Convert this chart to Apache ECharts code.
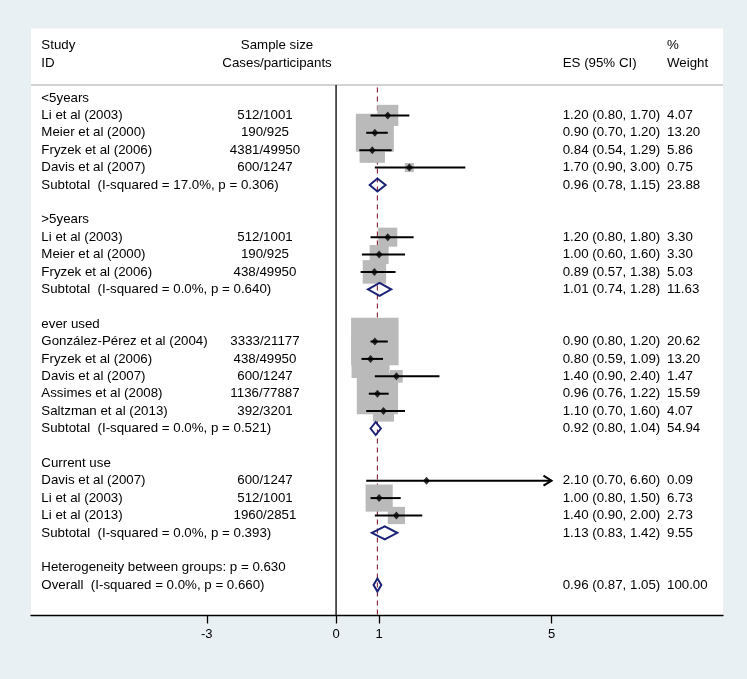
<!DOCTYPE html>
<html>
<head>
<meta charset="utf-8">
<script src="https://cdn.jsdelivr.net/npm/echarts@6/dist/echarts.min.js"></script>
<style>
  html, body { margin: 0; padding: 0; background: #e9f0f3; }
  #chart { width: 747px; height: 679px; }
</style>
</head>
<body>
<div id="chart"></div>
<script>
// rows of the forest plot, top to bottom
const studyLabels = [
  '<5years', 'Li et al (2003)', 'Meier et al (2000)', 'Fryzek et al (2006)', 'Davis et al (2007)',
  'Subtotal  (I-squared = 17.0%, p = 0.306)', '',
  '>5years', 'Li et al (2003)', 'Meier et al (2000)', 'Fryzek et al (2006)',
  'Subtotal  (I-squared = 0.0%, p = 0.640)', '',
  'ever used', 'González-Pérez et al (2004)', 'Fryzek et al (2006)', 'Davis et al (2007)',
  'Assimes et al (2008)', 'Saltzman et al (2013)', 'Subtotal  (I-squared = 0.0%, p = 0.521)', '',
  'Current use', 'Davis et al (2007)', 'Li et al (2003)', 'Li et al (2013)',
  'Subtotal  (I-squared = 0.0%, p = 0.393)', '',
  'Heterogeneity between groups: p = 0.630', 'Overall  (I-squared = 0.0%, p = 0.660)'
]
const rowTypes = [
  'group', 'study', 'study', 'study', 'study', 'pooled', '',
  'group', 'study', 'study', 'study', 'pooled', '',
  'group', 'study', 'study', 'study', 'study', 'study', 'pooled', '',
  'group', 'study', 'study', 'study', 'pooled', '',
  'note', 'pooled'
]
const sampleSizes = [
  '', '512/1001', '190/925', '4381/49950', '600/1247', '', '',
  '', '512/1001', '190/925', '438/49950', '', '',
  '', '3333/21177', '438/49950', '600/1247', '1136/77887', '392/3201', '', '',
  '', '600/1247', '512/1001', '1960/2851', '', '',
  '', ''
]
const es = [
  null, 1.20, 0.90, 0.84, 1.70, 0.96, null,
  null, 1.20, 1.00, 0.89, 1.01, null,
  null, 0.90, 0.80, 1.40, 0.96, 1.10, 0.92, null,
  null, 2.10, 1.00, 1.40, 1.13, null,
  null, 0.96
]
const ciLow = [
  null, 0.80, 0.70, 0.54, 0.90, 0.78, null,
  null, 0.80, 0.60, 0.57, 0.74, null,
  null, 0.80, 0.59, 0.90, 0.76, 0.70, 0.80, null,
  null, 0.70, 0.80, 0.90, 0.83, null,
  null, 0.87
]
const ciHigh = [
  null, 1.70, 1.20, 1.29, 3.00, 1.15, null,
  null, 1.80, 1.60, 1.38, 1.28, null,
  null, 1.20, 1.09, 2.40, 1.22, 1.60, 1.04, null,
  null, 6.60, 1.50, 2.00, 1.42, null,
  null, 1.05
]
const weights = [
  null, 4.07, 13.20, 5.86, 0.75, 23.88, null,
  null, 3.30, 3.30, 5.03, 11.63, null,
  null, 20.62, 13.20, 1.47, 15.59, 4.07, 54.94, null,
  null, 0.09, 6.73, 2.73, 9.55, null,
  null, 100.00
]
const xTicks = [-3, 0, 1, 5]
const xClip = 5

const font = '13.3px "Liberation Sans", Arial, sans-serif'
const xMin = -7.08
const xMax = 8.98
const yTop = -4
const yBottom = 29.75
const colStudy = -6.84
const colSample = -1.65
const colHeadSample = -1.37
const colES = 5.26
const colWeight = 7.68

const studyRows = []
const pooledRows = []
rowTypes.forEach((t, i) => {
  if (t === 'study') studyRows.push(i)
  if (t === 'pooled') pooledRows.push(i)
})
const overallES = es[es.length - 1]

// text cells
const texts = [
  { x: colStudy, r: -3, text: 'Study', align: 'left' },
  { x: colStudy, r: -2, text: 'ID', align: 'left' },
  { x: colHeadSample, r: -3, text: 'Sample size', align: 'center' },
  { x: colHeadSample, r: -2, text: 'Cases/participants', align: 'center' },
  { x: colES, r: -2, text: 'ES (95% CI)', align: 'left' },
  { x: colWeight, r: -3, text: '%', align: 'left' },
  { x: colWeight, r: -2, text: 'Weight', align: 'left' }
]
studyLabels.forEach((label, i) => {
  if (label) texts.push({ x: colStudy, r: i, text: label, align: 'left' })
  if (sampleSizes[i]) texts.push({ x: colSample, r: i, text: sampleSizes[i], align: 'center' })
  if (es[i] !== null) {
    texts.push({
      x: colES, r: i, align: 'left',
      text: es[i].toFixed(2) + ' (' + ciLow[i].toFixed(2) + ', ' + ciHigh[i].toFixed(2) + ')'
    })
    texts.push({ x: colWeight, r: i, text: weights[i].toFixed(2), align: 'left' })
  }
})

const chart = echarts.init(document.getElementById('chart'))
const option = {
  backgroundColor: '#e9f0f3',
  animation: false,
  grid: {
    left: 31,
    right: 24,
    top: 28.4,
    bottom: 63.5,
    show: true,
    backgroundColor: '#ffffff',
    borderWidth: 0
  },
  xAxis: {
    type: 'value',
    min: xMin,
    max: xMax,
    axisLine: { show: true, onZero: false, lineStyle: { color: '#000', width: 1.3 } },
    axisTick: { show: true, customValues: xTicks, length: 8, lineStyle: { color: '#000', width: 1.3 } },
    axisLabel: { customValues: xTicks, color: '#000', fontSize: 13, fontFamily: 'Liberation Sans', margin: 12 },
    splitLine: { show: false }
  },
  yAxis: {
    type: 'value',
    inverse: true,
    min: yTop,
    max: yBottom,
    show: false
  },
  series: [
    {
      // header separator
      type: 'line',
      data: [[xMin, -0.75], [xMax, -0.75]],
      symbol: 'none',
      lineStyle: { color: '#c4c4c4', width: 1.5 },
      z: 1
    },
    {
      // line of no effect
      type: 'line',
      data: [[0, -0.75], [0, yBottom]],
      symbol: 'none',
      lineStyle: { color: '#000', width: 1.3 },
      z: 1
    },
    {
      // overall effect
      type: 'line',
      data: [[overallES, -0.6], [overallES, yBottom]],
      symbol: 'none',
      lineStyle: { color: '#8b2b3c', width: 1.2, type: [5, 4] },
      z: 1
    },
    {
      // weight boxes
      type: 'scatter',
      symbol: 'rect',
      data: studyRows.map(i => [es[i], i, weights[i]]),
      symbolSize: v => 10.46 * Math.sqrt(v[2]),
      itemStyle: { color: '#bababa', opacity: 1 },
      z: 2
    },
    {
      // confidence intervals
      type: 'custom',
      data: studyRows.map(i => [ciLow[i], ciHigh[i], i]),
      encode: { x: [0, 1], y: 2 },
      renderItem: (params, api) => {
        const hi = api.value(1)
        const p0 = api.coord([api.value(0), api.value(2)])
        const p1 = api.coord([Math.min(hi, xClip), api.value(2)])
        const children = [{
          type: 'line',
          shape: { x1: p0[0], y1: p0[1], x2: p1[0], y2: p1[1] },
          style: { stroke: '#000', lineWidth: 2 }
        }]
        if (hi > xClip) {
          children.push({
            type: 'polyline',
            shape: { points: [[p1[0] - 8, p1[1] - 5], [p1[0], p1[1]], [p1[0] - 8, p1[1] + 5]] },
            style: { stroke: '#000', lineWidth: 2, fill: null }
          })
        }
        return { type: 'group', children }
      },
      z: 3
    },
    {
      // point estimates
      type: 'scatter',
      symbol: 'diamond',
      symbolSize: [7, 8],
      data: studyRows.map(i => [es[i], i]),
      itemStyle: { color: '#000' },
      z: 4
    },
    {
      // pooled diamonds
      type: 'custom',
      data: pooledRows.map(i => [ciLow[i], es[i], ciHigh[i], i]),
      encode: { x: [0, 1, 2], y: 3 },
      renderItem: (params, api) => {
        const r = api.value(3)
        const l = api.coord([api.value(0), r])
        const m = api.coord([api.value(1), r])
        const h = api.coord([api.value(2), r])
        const half = 6.5
        return {
          type: 'polygon',
          shape: { points: [[l[0], l[1]], [m[0], m[1] - half], [h[0], h[1]], [m[0], m[1] + half]] },
          style: { stroke: '#1a2277', lineWidth: 2, fill: null }
        }
      },
      z: 4
    },
    {
      // text columns
      type: 'custom',
      data: texts.map(t => [t.x, t.r]),
      renderItem: (params, api) => {
        const t = texts[params.dataIndex]
        const p = api.coord([t.x, t.r])
        return {
          type: 'text',
          x: p[0],
          y: p[1],
          style: { text: t.text, font, fill: '#000', align: t.align, verticalAlign: 'middle' }
        }
      },
      z: 5
    }
  ]
}
option && chart.setOption(option)
</script>
</body>
</html>
